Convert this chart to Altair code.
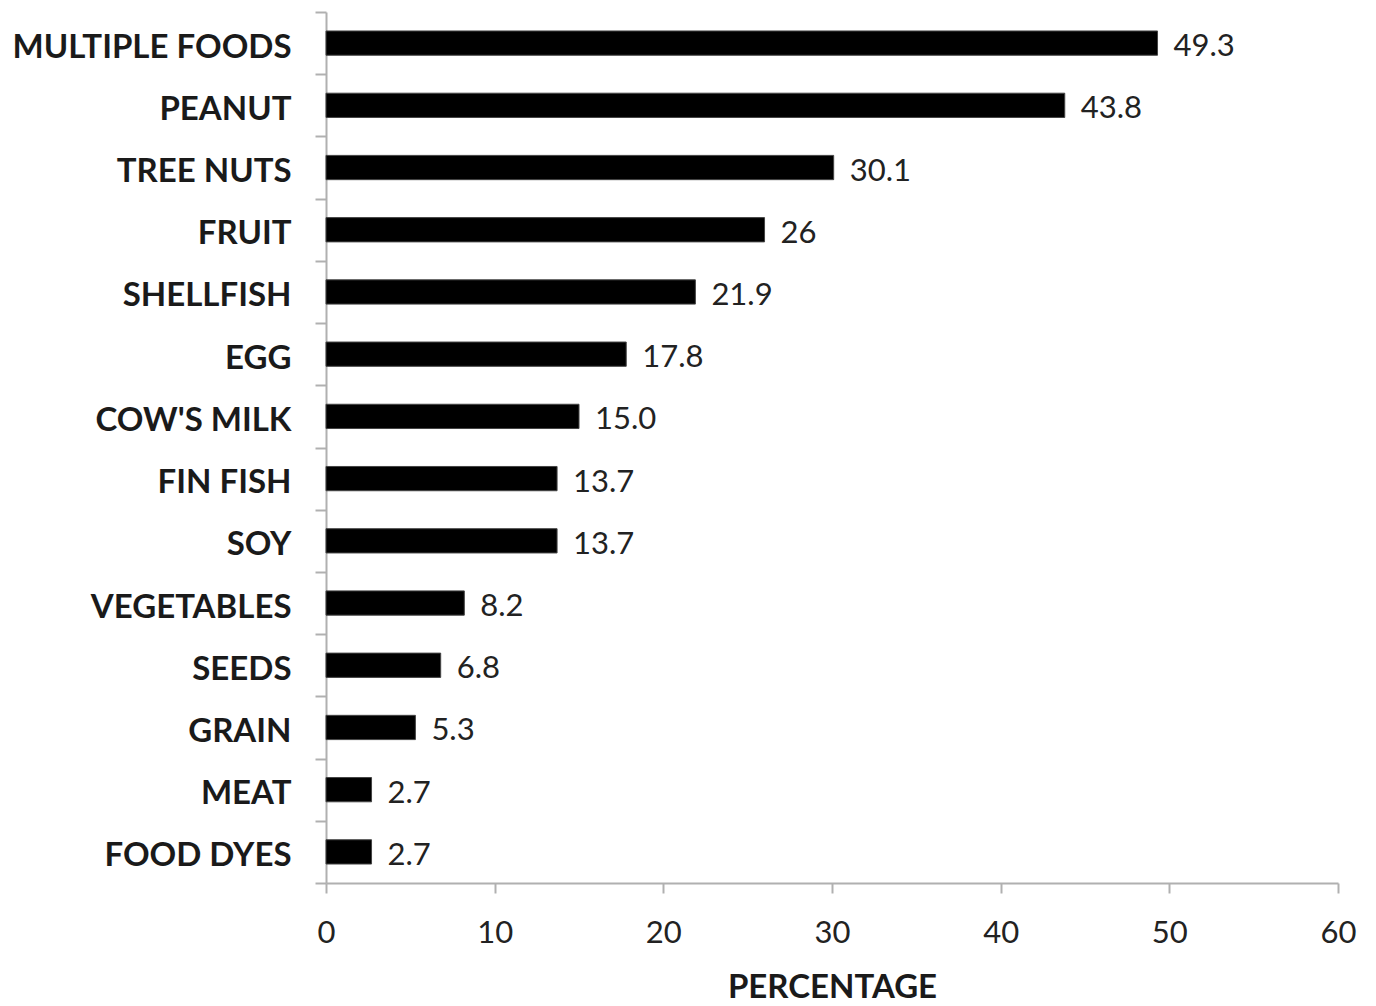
import altair as alt
import pandas as pd

categories = ["MULTIPLE FOODS", "PEANUT", "TREE NUTS", "FRUIT", "SHELLFISH", "EGG",
              "COW'S MILK", "FIN FISH", "SOY", "VEGETABLES", "SEEDS", "GRAIN",
              "MEAT", "FOOD DYES"]
values = [49.3, 43.8, 30.1, 26, 21.9, 17.8, 15.0, 13.7, 13.7, 8.2, 6.8, 5.3, 2.7, 2.7]
value_labels = ["49.3", "43.8", "30.1", "26", "21.9", "17.8", "15.0", "13.7", "13.7",
                "8.2", "6.8", "5.3", "2.7", "2.7"]

df = pd.DataFrame({"category": categories, "value": values, "label": value_labels})

FONT = "Lato"

y_scale = alt.Scale(paddingInner=0, paddingOuter=0)

y_enc = alt.Y("category:N", sort=categories, title=None, scale=y_scale,
              axis=alt.Axis(tickBand="extent", labelFont=FONT, labelFontSize=33,
                            labelFontWeight="bold", labelColor="#1a1a1a", labelLimit=0,
                            labelOffset=4, labelPadding=24, tickSize=11,
                            tickColor="#b0b0b0", domainColor="#b0b0b0",
                            tickWidth=2, domainWidth=2))

x_enc = alt.X("value:Q", title="PERCENTAGE",
              scale=alt.Scale(domain=[0, 60], nice=False),
              axis=alt.Axis(values=[0, 10, 20, 30, 40, 50, 60], grid=False,
                            labelFont=FONT, labelFontSize=31, labelColor="#222222",
                            labelFlush=False, labelPadding=25, tickSize=10,
                            tickColor="#b0b0b0", domainColor="#b0b0b0",
                            tickWidth=2, domainWidth=2,
                            titleFont=FONT, titleFontSize=33, titleFontWeight="bold",
                            titleColor="#1a1a1a", titlePadding=23))

bars = alt.Chart(df).mark_bar(color="black", stroke="#444444", strokeWidth=1,
                              height=alt.RelativeBandSize(0.39)).encode(
    x=x_enc, y=y_enc)

text = alt.Chart(df).mark_text(align="left", baseline="middle", dx=16, dy=4,
                               font=FONT, fontSize=31, color="#222222").encode(
    x="value:Q", y=alt.Y("category:N", sort=categories, scale=y_scale), text="label:N")

chart = alt.layer(bars, text).properties(
    width=1012, height=871,
    autosize=alt.AutoSizeParams(type="none"),
    padding={"left": 326, "top": 12, "right": 38, "bottom": 123},
).configure(background="white").configure_view(stroke=None)

chart.save("out.html", embed_options={"renderer": "svg", "actions": False})
